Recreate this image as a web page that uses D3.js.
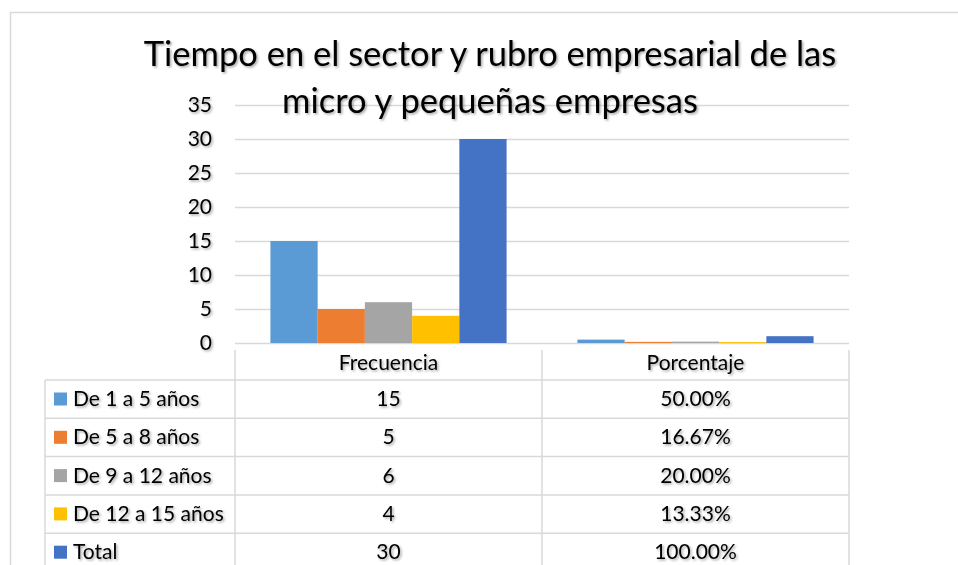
<!DOCTYPE html>
<html>
<head>
<meta charset="utf-8">
<script src="https://cdn.jsdelivr.net/npm/d3@7"></script>
<style>
  body { margin: 0; background: #fff; }
  text { font-family: Lato, "Open Sans", sans-serif; fill: #000; }
</style>
</head>
<body>
<div id="graph"></div>
<script>

// chart data
const categories = ["Frecuencia", "Porcentaje"];
const series = ["De 1 a 5 años", "De 5 a 8 años", "De 9 a 12 años", "De 12 a 15 años", "Total"];
const frecuencia = [15, 5, 6, 4, 30];
const porcentaje = [0.5, 0.1667, 0.2, 0.1333, 1.0];
const porcentajeLabels = ["50.00%", "16.67%", "20.00%", "13.33%", "100.00%"];
const yTicks = [0, 5, 10, 15, 20, 25, 30, 35];
const colors = ["#5B9BD5", "#ED7D31", "#A5A5A5", "#FFC000", "#4472C4"];
const titleLines = ["Tiempo en el sector y rubro empresarial de las", "micro y pequeñas empresas"];

const width = 958, height = 565;
const plot = {left: 235, right: 849, top: 105, bottom: 343};
const grid = "#d9d9d9";

const svg = d3.select("#graph").append("svg")
    .attr("width", width)
    .attr("height", height);

// soft shadow like the office text effect
svg.append("defs").append("filter")
    .attr("id", "shadow")
    .attr("x", "-10%").attr("y", "-30%")
    .attr("width", "130%").attr("height", "170%")
  .append("feDropShadow")
    .attr("dx", 1.5).attr("dy", 1.5)
    .attr("stdDeviation", 1)
    .attr("flood-color", "#000")
    .attr("flood-opacity", 0.35);

// outer frame
svg.append("rect")
    .attr("x", 10.5).attr("y", 12.5)
    .attr("width", 1000).attr("height", 600)
    .attr("fill", "none")
    .attr("stroke", grid)
    .attr("stroke-width", 1.5);

// scales
var x0 = d3.scaleBand()
    .domain(categories)
    .range([plot.left, plot.right]);

// gap width 150% of one bar
var barW = x0.bandwidth() / (series.length + 1.5);
var x1 = d3.scaleBand()
    .domain(series)
    .range([barW * 0.75, x0.bandwidth() - barW * 0.75]);

var y = d3.scaleLinear()
    .domain([0, 35])
    .range([plot.bottom, plot.top]);

// gridlines
const gridG = svg.append("g")
    .attr("transform", "translate(" + plot.left + ",0)")
    .call(d3.axisLeft(y).tickValues(yTicks).tickSize(-(plot.right - plot.left)).tickFormat(""));
gridG.select(".domain").remove();
gridG.selectAll("line").attr("stroke", grid).attr("stroke-width", 1.5);

// y axis labels
const yAxis = svg.append("g")
    .attr("transform", "translate(212,0)")
    .call(d3.axisLeft(y).tickValues(yTicks).tickSize(0).tickPadding(0));
yAxis.select(".domain").remove();
yAxis.selectAll("text")
    .style("font-size", "21px")
    .attr("fill", "#000")
    .attr("filter", "url(#shadow)");

// bars
const values = {Frecuencia: frecuencia, Porcentaje: porcentaje};
const groups = svg.selectAll("g.cat")
    .data(categories)
  .enter().append("g")
    .attr("class", "cat")
    .attr("transform", function(d) { return "translate(" + x0(d) + ",0)"; });

groups.selectAll("rect")
    .data(function(c) { return series.map(function(s, i) { return {s: s, v: values[c][i], i: i}; }); })
  .enter().append("rect")
    .attr("x", function(d) { return x1(d.s); })
    .attr("y", function(d) { return y(d.v); })
    .attr("width", x1.bandwidth())
    .attr("height", function(d) { return y(0) - y(d.v); })
    .attr("fill", function(d) { return colors[d.i]; });

// title
svg.append("g").selectAll("text")
    .data(titleLines)
  .enter().append("text")
    .attr("x", 490)
    .attr("y", function(d, i) { return 66 + i * 47; })
    .attr("text-anchor", "middle")
    .style("font-size", "34.5px")
    .attr("filter", "url(#shadow)")
    .text(function(d) { return d; });

// data table
const headerTop = 350, rowTop = 380, rowH = 38.3, legendLeft = 45;
const table = svg.append("g");

// header cell borders
x0.domain().concat(["end"]).forEach(function(c, i) {
  var xx = i < categories.length ? x0(c) : plot.right;
  table.append("line")
      .attr("x1", xx).attr("x2", xx)
      .attr("y1", headerTop).attr("y2", height + 10)
      .attr("stroke", grid).attr("stroke-width", 1.5);
});
table.append("line")
    .attr("x1", legendLeft).attr("x2", legendLeft)
    .attr("y1", rowTop).attr("y2", height + 10)
    .attr("stroke", grid).attr("stroke-width", 1.5);
series.forEach(function(s, i) {
  table.append("line")
      .attr("x1", legendLeft).attr("x2", plot.right)
      .attr("y1", rowTop + i * rowH).attr("y2", rowTop + i * rowH)
      .attr("stroke", grid).attr("stroke-width", 1.5);
});

table.selectAll("text.head")
    .data(categories)
  .enter().append("text")
    .attr("class", "head")
    .attr("x", function(d) { return x0(d) + x0.bandwidth() / 2; })
    .attr("y", 370)
    .attr("text-anchor", "middle")
    .style("font-size", "21px")
    .attr("filter", "url(#shadow)")
    .text(function(d) { return d; });

// legend keys and labels
const rows = table.selectAll("g.row")
    .data(series)
  .enter().append("g")
    .attr("class", "row")
    .attr("transform", function(d, i) { return "translate(0," + (rowTop + i * rowH) + ")"; });

rows.append("rect")
    .attr("x", 54).attr("y", 12.5)
    .attr("width", 13).attr("height", 13)
    .attr("fill", function(d, i) { return colors[i]; });

rows.append("text")
    .attr("x", 73).attr("y", 26)
    .style("font-size", "21px")
    .attr("filter", "url(#shadow)")
    .text(function(d) { return d; });

rows.append("text")
    .attr("x", x0("Frecuencia") + x0.bandwidth() / 2).attr("y", 26)
    .attr("text-anchor", "middle")
    .style("font-size", "21px")
    .attr("filter", "url(#shadow)")
    .text(function(d, i) { return frecuencia[i]; });

rows.append("text")
    .attr("x", x0("Porcentaje") + x0.bandwidth() / 2).attr("y", 26)
    .attr("text-anchor", "middle")
    .style("font-size", "21px")
    .attr("filter", "url(#shadow)")
    .text(function(d, i) { return porcentajeLabels[i]; });

</script>
</body>
</html>
